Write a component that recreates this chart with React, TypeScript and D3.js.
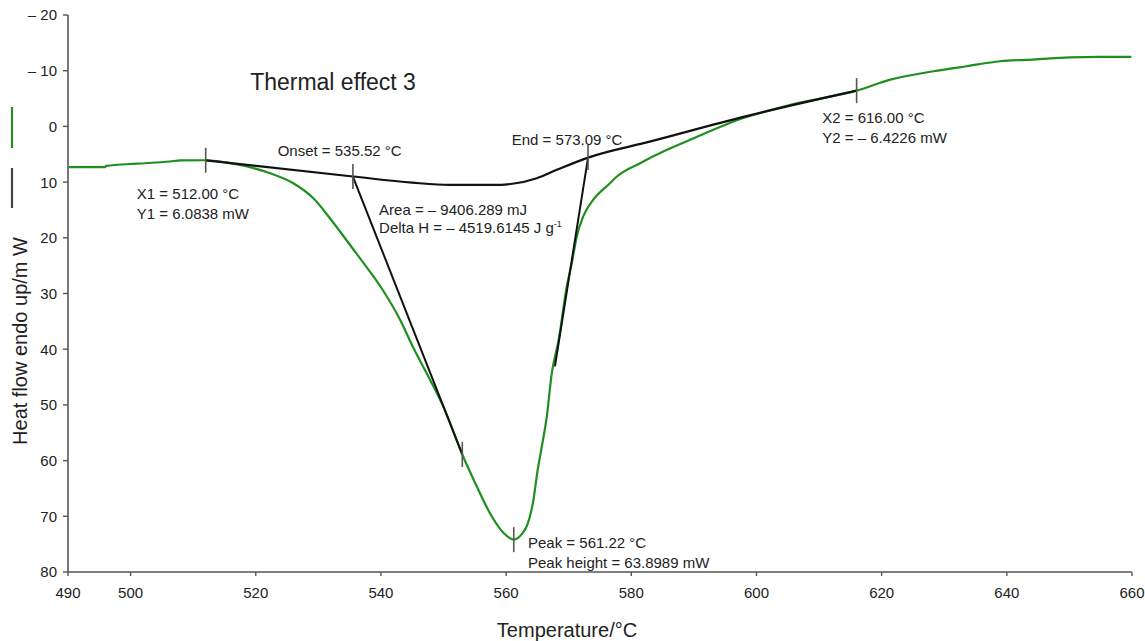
import { useEffect, useRef } from 'react';
import * as d3 from 'd3';

// measured DSC curve (temperature in °C, heat flow in mW, endo up)
const temps = [490.1, 495.9, 496.1, 501.0, 506.3, 508.0, 512.0, 515.4, 518.6, 522.3, 526.0, 529.2, 532.4, 535.6, 537.2, 539.9, 543.1, 545.2, 547.9, 550.0, 553.0, 555.3, 557.4, 559.6, 561.2, 562.5, 563.4, 564.3, 565.0, 565.7, 566.5, 567.3, 568.4, 569.7, 570.5, 571.3, 572.3, 573.9, 576.6, 577.7, 581.4, 585.7, 589.4, 597.9, 605.9, 616.0, 621.4, 628.3, 633.6, 638.9, 644.2, 650.0, 654.9, 659.9];
const heatFlow = [7.3, 7.3, 7.1, 6.7, 6.3, 6.1, 6.08, 6.5, 7.2, 8.4, 10.2, 12.9, 17.3, 22.1, 24.5, 28.7, 34.8, 39.8, 45.6, 50.4, 58.9, 64.6, 69.4, 73.0, 74.2, 73.2, 71.5, 67.5, 62.0, 57.5, 52.1, 44.3, 38.3, 28.7, 24.5, 19.7, 16.2, 13.2, 10.2, 9.0, 6.6, 4.2, 2.4, -1.5, -4.0, -6.42, -8.4, -9.9, -10.8, -11.7, -12.0, -12.4, -12.5, -12.5];

// integration baseline between X1 and X2
const baseTemps = [512.0, 535.52, 545.0, 551.0, 558.0, 561.0, 564.9, 568.1, 573.09, 583.1, 597.9, 616.0];
const baseFlow = [6.08, 9.0, 10.1, 10.5, 10.5, 10.3, 9.3, 7.8, 5.6, 2.7, -1.7, -6.42];

// onset / end tangents
const tangents = [
  [[535.52, 9.0], [553.0, 58.9]],
  [[573.09, 5.6], [567.8, 43.1]],
];

// small vertical markers
const markers = [[512.0, 6.08], [535.52, 9.0], [573.09, 5.6], [616.0, -6.42], [561.22, 74.2], [553.0, 58.9]];

const xTicks = [490, 500, 520, 540, 560, 580, 600, 620, 640, 660];
const yTicks = [-20, -10, 0, 10, 20, 30, 40, 50, 60, 70, 80];

const labels = [
  { t: 519.1, v: -6.5, text: 'Thermal effect 3', size: 23 },
  { t: 523.5, v: 5.3, text: 'Onset = 535.52 °C' },
  { t: 501.0, v: 13.0, text: 'X1 = 512.00 °C' },
  { t: 501.0, v: 16.6, text: 'Y1 = 6.0838 mW' },
  { t: 539.7, v: 15.9, text: 'Area = – 9406.289 mJ' },
  { t: 539.7, v: 19.1, text: 'Delta H = – 4519.6145 J g', sup: '-1' },
  { t: 560.9, v: 3.3, text: 'End = 573.09 °C' },
  { t: 610.5, v: -0.6, text: 'X2 = 616.00 °C' },
  { t: 610.5, v: 3.0, text: 'Y2 = – 6.4226 mW' },
  { t: 563.5, v: 75.7, text: 'Peak = 561.22 °C' },
  { t: 563.5, v: 79.3, text: 'Peak height = 63.8989 mW' },
];

const font = '"Liberation Sans", Arial, sans-serif';

export default function App() {
  const svgRef = useRef<SVGSVGElement>(null);

  useEffect(() => {
    if (!svgRef.current) return;
    const svg = d3.select(svgRef.current);
    svg.selectAll('*').remove();

    const x = d3.scaleLinear().domain([490, 660]).range([68, 1132]);
    const y = d3.scaleLinear().domain([-20, 80]).range([15, 572]);
    const axisColor = '#555';

    // axes
    svg.append('line')
      .attr('x1', x(490)).attr('x2', x(490))
      .attr('y1', y(-20)).attr('y2', y(80))
      .attr('stroke', axisColor).attr('stroke-width', 1.6);
    svg.append('line')
      .attr('x1', x(490)).attr('x2', x(660))
      .attr('y1', y(80)).attr('y2', y(80))
      .attr('stroke', axisColor).attr('stroke-width', 1.6);

    const yt = svg.append('g').selectAll('g').data(yTicks).enter().append('g');
    yt.append('line')
      .attr('x1', x(490) - 5).attr('x2', x(490))
      .attr('y1', d => y(d)).attr('y2', d => y(d))
      .attr('stroke', axisColor).attr('stroke-width', 1.4);
    yt.append('text')
      .attr('x', 57).attr('y', d => y(d)).attr('dy', '0.36em')
      .attr('text-anchor', 'end')
      .style('font-family', font).style('font-size', '15px').style('fill', '#222')
      .text(d => d < 0 ? `– ${-d}` : `${d}`);

    const xt = svg.append('g').selectAll('g').data(xTicks).enter().append('g');
    xt.append('line')
      .attr('x1', d => x(d)).attr('x2', d => x(d))
      .attr('y1', y(80)).attr('y2', y(80) + 4)
      .attr('stroke', axisColor).attr('stroke-width', 1.4);
    xt.append('text')
      .attr('x', d => x(d)).attr('y', 598)
      .attr('text-anchor', 'middle')
      .style('font-family', font).style('font-size', '15px').style('fill', '#222')
      .text(d => d);

    // axis titles
    svg.append('text')
      .attr('x', 567).attr('y', 637)
      .attr('text-anchor', 'middle')
      .style('font-family', font).style('font-size', '20px').style('fill', '#222')
      .text('Temperature/°C');
    svg.append('text')
      .attr('transform', 'translate(27,341) rotate(-90)')
      .attr('text-anchor', 'middle')
      .style('font-family', font).style('font-size', '20px').style('fill', '#222')
      .text('Heat flow endo up/m W');

    // legend strokes at the left edge
    svg.append('line').attr('x1', 12).attr('x2', 12).attr('y1', 107).attr('y2', 148)
      .attr('stroke', '#1f8f1f').attr('stroke-width', 2.2);
    svg.append('line').attr('x1', 12).attr('x2', 12).attr('y1', 168).attr('y2', 208)
      .attr('stroke', '#444').attr('stroke-width', 2.2);

    const line = d3.line<number>()
      .x(i => x(temps[i]))
      .y(i => y(heatFlow[i]))
      .curve(d3.curveMonotoneX);
    const baseLine = d3.line<number>()
      .x(i => x(baseTemps[i]))
      .y(i => y(baseFlow[i]))
      .curve(d3.curveMonotoneX);

    svg.append('path')
      .attr('d', line(d3.range(temps.length)))
      .attr('fill', 'none').attr('stroke', '#1f8f1f').attr('stroke-width', 2.2);

    svg.append('path')
      .attr('d', baseLine(d3.range(baseTemps.length)))
      .attr('fill', 'none').attr('stroke', '#111').attr('stroke-width', 2.2);

    tangents.forEach(seg => {
      svg.append('line')
        .attr('x1', x(seg[0][0])).attr('y1', y(seg[0][1]))
        .attr('x2', x(seg[1][0])).attr('y2', y(seg[1][1]))
        .attr('stroke', '#111').attr('stroke-width', 2);
    });

    markers.forEach(m => {
      svg.append('line')
        .attr('x1', x(m[0])).attr('x2', x(m[0]))
        .attr('y1', y(m[1]) - 12.5).attr('y2', y(m[1]) + 12.5)
        .attr('stroke', '#555').attr('stroke-width', 1.6);
    });

    labels.forEach(l => {
      const t = svg.append('text')
        .attr('x', x(l.t)).attr('y', y(l.v))
        .style('font-family', font).style('font-size', `${l.size || 15}px`).style('fill', '#222')
        .text(l.text);
      if (l.sup) {
        t.append('tspan').attr('dy', -6).style('font-size', '9px').text(l.sup);
      }
    });
  }, []);

  return (
    <svg
      ref={svgRef}
      width={1145}
      height={641}
      style={{ position: 'absolute', left: 0, top: 0, background: '#fff' }}
    />
  );
}
